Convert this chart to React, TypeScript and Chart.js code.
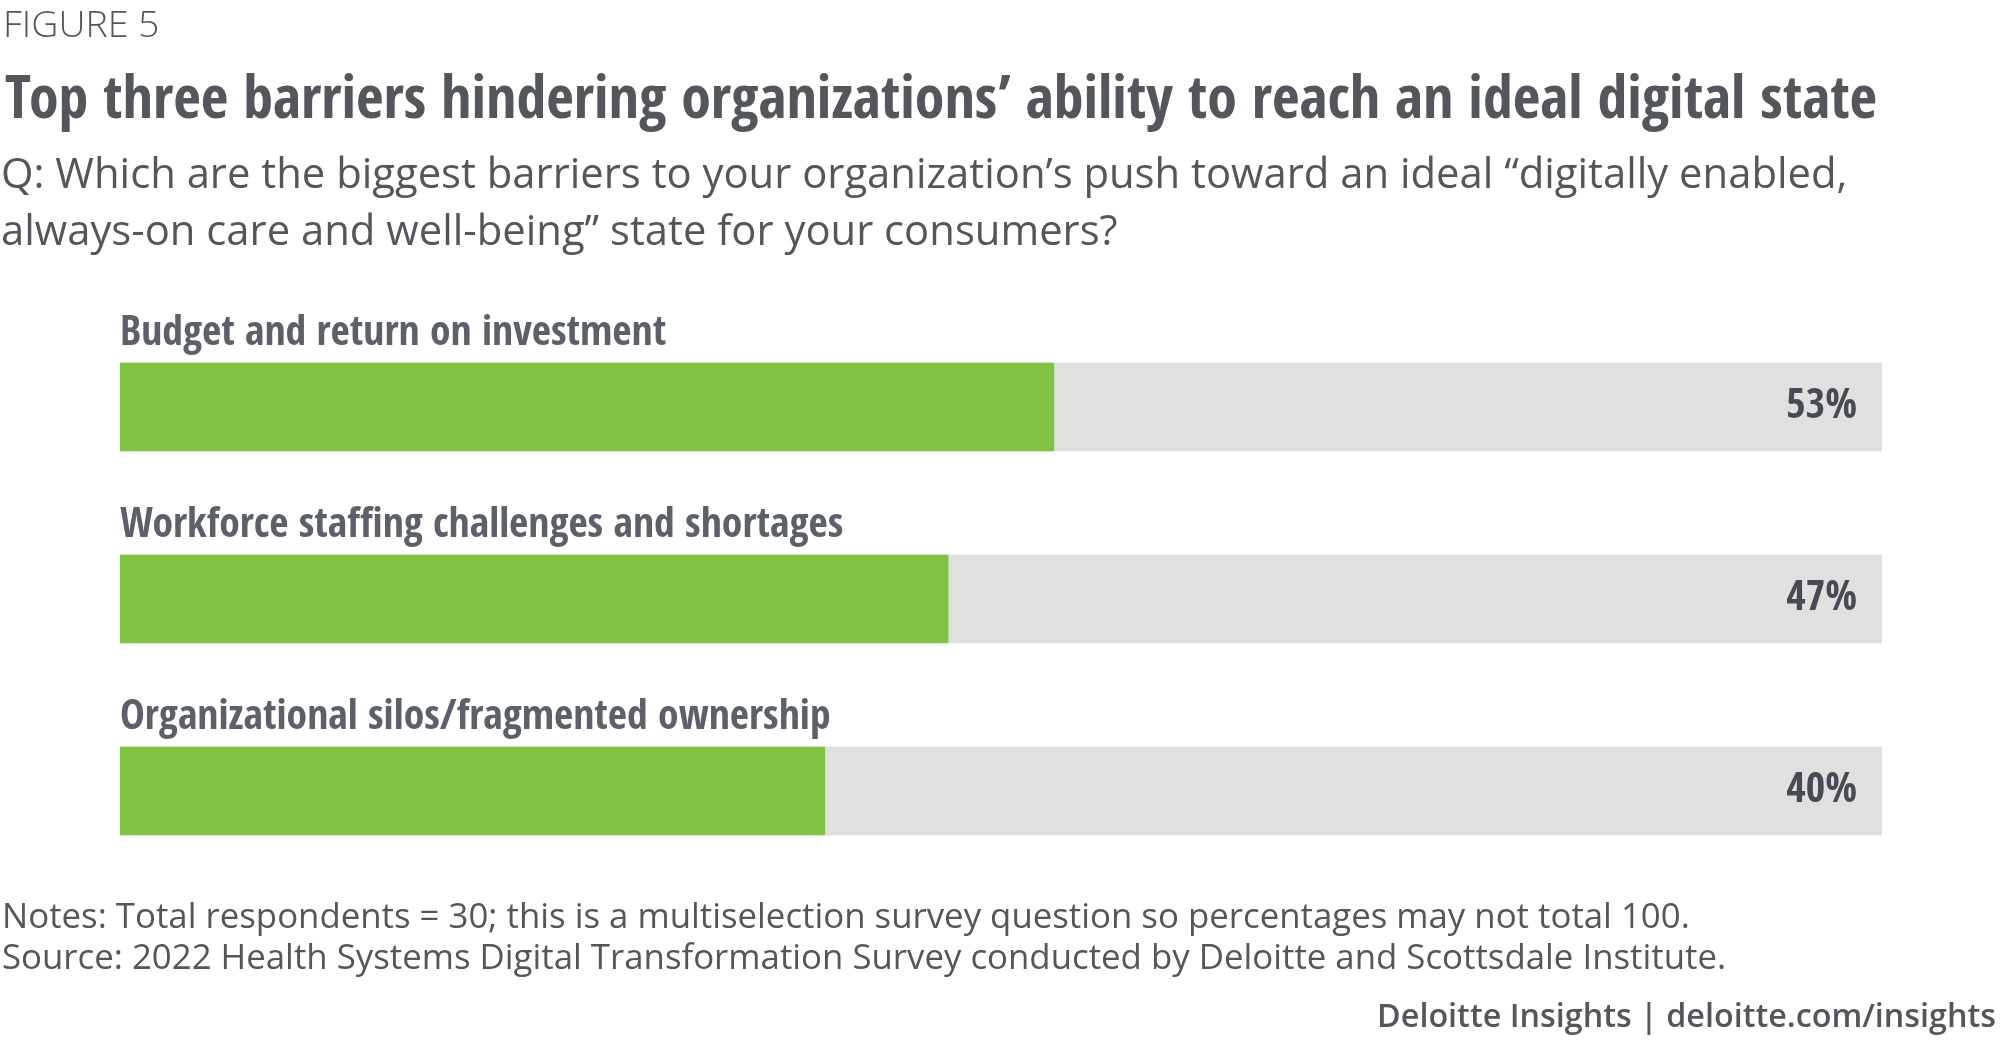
import React, { useEffect, useRef } from "react";
import { Chart, registerables } from "chart.js";

Chart.register(...registerables);

const categories = [
  "Budget and return on investment",
  "Workforce staffing challenges and shortages",
  "Organizational silos/fragmented ownership",
];
const values = [53, 47, 40];
const trackValues = [100, 100, 100];

const GREEN = "#80C242";
const TRACK = "#E0E0DF";
const TEXT = "#53565A";
const LABEL = "#5C6068";
const VALUE = "#474B54";
const COND = "'Open Sans Condensed', 'Open Sans', sans-serif";
const OPEN = "'Open Sans', sans-serif";

const labelPlugin = {
  id: "barLabels",
  afterDatasetsDraw(chart: any) {
    const ctx = chart.ctx as CanvasRenderingContext2D;
    const meta = chart.getDatasetMeta(0);
    const area = chart.chartArea;
    ctx.save();
    meta.data.forEach((bar: any, i: number) => {
      const top = bar.y - bar.height / 2;
      ctx.textBaseline = "alphabetic";
      ctx.font = `condensed bold 41.7px ${COND}`;
      try { (ctx as any).fontStretch = "condensed"; } catch (e) {}
      ctx.fillStyle = LABEL;
      ctx.textAlign = "left";
      ctx.fillText(categories[i], area.left, top - 18);
      ctx.font = `condensed bold 42px ${COND}`;
      try { (ctx as any).fontStretch = "condensed"; } catch (e) {}
      ctx.fillStyle = VALUE;
      ctx.textAlign = "right";
      ctx.fillText(`${values[i]}%`, area.right - 25, bar.y + 11);
    });
    ctx.restore();
  },
};

export default function App() {
  const ref = useRef<HTMLCanvasElement | null>(null);
  useEffect(() => {
    if (!ref.current) return;
    const chart = new Chart(ref.current, {
      type: "bar",
      data: {
        labels: categories,
        datasets: [
          { data: values, backgroundColor: GREEN, order: 0, grouped: false, barThickness: 88 } as any,
          { data: trackValues, backgroundColor: TRACK, order: 1, grouped: false, barThickness: 88 } as any,
        ],
      },
      options: {
        indexAxis: "y",
        animation: false,
        responsive: false,
        devicePixelRatio: 1,
        layout: { padding: { left: 120, right: 118, top: 311, bottom: 164 } },
        scales: {
          x: { display: false, min: 0, max: 100 },
          y: { display: false },
        },
        plugins: { legend: { display: false }, tooltip: { enabled: false } },
      },
      plugins: [labelPlugin],
    });
    return () => chart.destroy();
  }, []);

  const base: React.CSSProperties = { position: "absolute", whiteSpace: "nowrap", color: TEXT, margin: 0 };
  return (
    <div style={{ position: "absolute", left: 0, top: 0, width: 2000, height: 1051, background: "#fff", overflow: "hidden" }}>
      <canvas ref={ref} width={2000} height={1051} style={{ position: "absolute", left: 0, top: 0, width: 2000, height: 1051 }} />
      <div style={{ ...base, left: 3, top: 4.5, fontFamily: OPEN, fontWeight: 300, fontSize: 37.5, lineHeight: "36px" }}>FIGURE 5</div>
      <div style={{ ...base, left: 5, top: 64.7, fontFamily: COND, fontStretch: "75%", fontWeight: 700, fontSize: 60, lineHeight: "60px" }}>
        Top three barriers hindering organizations’ ability to reach an ideal digital state
      </div>
      <div style={{ ...base, left: 1, top: 143.3, fontFamily: OPEN, fontWeight: 400, fontSize: 41.8, lineHeight: "57px" }}>
        Q: Which are the biggest barriers to your organization’s push toward an ideal “digitally enabled,
        <br />
        always-on care and well-being” state for your consumers?
      </div>
      <div style={{ ...base, left: 2, top: 894, fontFamily: OPEN, fontWeight: 400, fontSize: 34.8, lineHeight: "41px" }}>
        Notes: Total respondents = 30; this is a multiselection survey question so percentages may not total 100.
        <br />
        Source: 2022 Health Systems Digital Transformation Survey conducted by Deloitte and Scottsdale Institute.
      </div>
      <div style={{ ...base, right: 4, top: 997.6, fontFamily: OPEN, fontWeight: 600, fontSize: 32.3, lineHeight: "32px" }}>
        Deloitte Insights | deloitte.com/insights
      </div>
    </div>
  );
}
